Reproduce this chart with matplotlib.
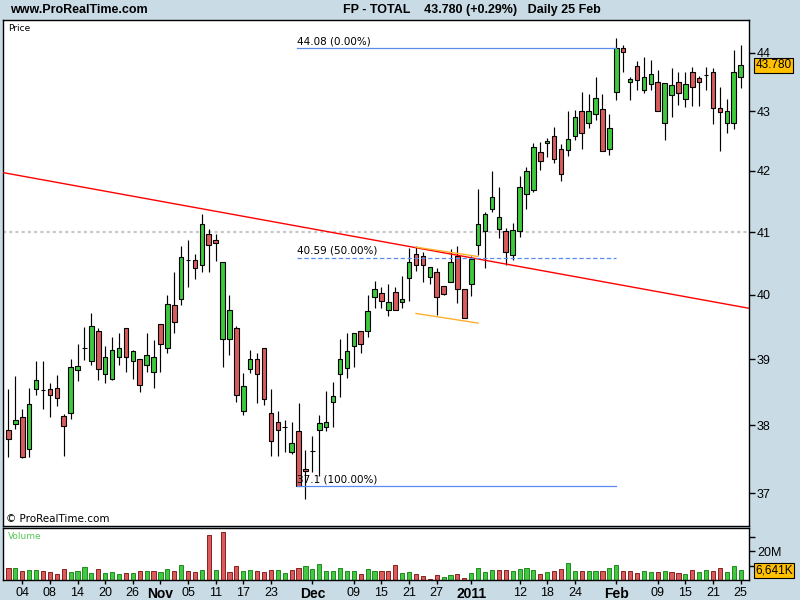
import numpy as np
import pandas as pd
import matplotlib

matplotlib.use("Agg")
import matplotlib.pyplot as plt
from matplotlib import font_manager
from matplotlib.ticker import FixedLocator, NullLocator
from matplotlib.transforms import blended_transform_factory

# ---- data (FP - TOTAL, daily) ----
start, end = "2010-09-30", "2011-02-25"

opens = [37.93, 38.02, 38.12, 37.65, 38.55, 38.53, 38.54, 38.56, 38.14, 38.19,
         38.84, 39.18, 38.97, 39.44, 38.78, 38.70, 39.03, 39.48, 38.97, 39.00,
         38.92, 38.81, 39.54, 39.17, 39.84, 39.93, 40.56, 40.55, 40.48, 40.97,
         40.88, 39.32, 39.32, 39.48, 38.22, 38.85, 39.01, 39.18, 38.18, 38.05,
         37.97, 37.60, 37.91, 37.36, 37.62, 37.93, 37.98, 38.35, 38.78, 38.86,
         39.20, 39.43, 39.44, 39.97, 40.03, 39.77, 40.05, 39.89, 40.27, 40.65,
         40.62, 40.29, 40.37, 40.14, 40.20, 40.62, 40.10, 40.17, 40.80, 41.02,
         41.38, 41.05, 41.02, 40.63, 41.02, 41.62, 41.68, 42.31, 42.46, 42.58,
         42.36, 42.35, 42.58, 43.00, 42.80, 42.95, 43.03, 42.36, 43.33, 44.09,
         43.49, 43.77, 43.36, 43.46, 43.49, 42.80, 43.27, 43.49, 43.20, 43.66,
         43.56, 43.61, 43.66, 43.05, 42.80, 42.80, 43.58]
highs = [38.54, 38.75, 38.24, 38.56, 38.98, 38.97, 38.64, 38.76, 38.17, 39.00,
         39.23, 39.50, 39.71, 39.49, 39.20, 39.34, 39.40, 39.49, 39.14, 39.00,
         39.40, 39.29, 39.54, 40.00, 40.37, 40.78, 40.88, 40.65, 41.29, 41.05,
         40.97, 40.52, 40.00, 39.52, 38.79, 39.14, 39.09, 39.18, 38.54, 38.21,
         38.08, 38.05, 38.33, 37.63, 37.84, 38.15, 38.51, 38.66, 39.32, 39.40,
         39.41, 39.43, 40.00, 40.22, 40.13, 40.18, 40.13, 40.30, 40.75, 40.78,
         40.68, 40.45, 40.42, 40.14, 40.73, 40.78, 40.10, 40.62, 41.71, 41.32,
         42.00, 41.74, 41.07, 41.15, 41.91, 42.06, 42.46, 42.48, 42.55, 42.73,
         42.45, 43.00, 43.02, 43.33, 43.29, 43.58, 43.29, 42.96, 44.25, 44.13,
         43.58, 43.85, 43.92, 43.87, 43.70, 43.48, 43.73, 43.66, 43.66, 43.75,
         43.60, 43.75, 43.73, 43.41, 43.20, 44.04, 44.13]
lows = [37.53, 37.94, 37.51, 37.53, 38.45, 38.24, 38.12, 38.29, 37.54, 38.09,
        38.67, 38.99, 38.92, 38.69, 38.64, 38.68, 38.92, 38.81, 38.70, 38.50,
        38.80, 38.56, 38.81, 39.09, 39.41, 39.85, 40.12, 40.26, 40.37, 40.37,
        40.54, 38.89, 39.06, 38.35, 38.15, 38.79, 38.33, 38.30, 37.54, 37.54,
        37.60, 37.58, 37.10, 36.92, 37.31, 37.25, 37.91, 37.98, 38.43, 38.71,
        38.89, 39.09, 39.34, 39.79, 39.79, 39.67, 39.77, 39.79, 39.91, 40.38,
        40.21, 40.18, 39.68, 40.00, 40.20, 39.88, 39.64, 39.99, 40.63, 40.42,
        41.32, 40.90, 40.47, 40.55, 40.92, 41.38, 41.66, 42.01, 42.23, 42.13,
        41.83, 42.25, 42.51, 42.37, 42.72, 42.85, 42.33, 42.26, 43.19, 43.66,
        43.19, 43.36, 43.31, 43.36, 43.00, 42.51, 42.90, 43.10, 43.07, 43.09,
        43.09, 43.36, 42.78, 42.33, 42.63, 42.70, 43.39]
closes = [37.80, 38.08, 37.53, 38.32, 38.68, 38.53, 38.45, 38.41, 37.99, 38.89,
          38.90, 39.18, 39.52, 38.85, 39.03, 39.14, 39.17, 39.04, 39.13, 38.61,
          39.06, 39.04, 39.24, 39.86, 39.57, 40.60, 40.56, 40.43, 41.13, 40.80,
          40.83, 40.52, 39.77, 38.45, 38.59, 39.01, 38.78, 38.39, 37.76, 37.93,
          37.97, 37.74, 37.10, 37.33, 37.62, 38.03, 38.05, 38.44, 39.00, 39.13,
          39.41, 39.24, 39.75, 40.09, 39.91, 39.89, 39.77, 39.94, 40.53, 40.48,
          40.47, 40.45, 39.97, 40.02, 40.52, 40.10, 39.64, 40.57, 41.13, 41.30,
          41.57, 41.24, 40.68, 41.04, 41.74, 42.00, 42.40, 42.16, 42.50, 42.20,
          41.95, 42.53, 42.90, 42.63, 43.00, 43.22, 42.33, 42.72, 44.08, 44.01,
          43.54, 43.53, 43.58, 43.63, 43.00, 43.48, 43.44, 43.31, 43.46, 43.41,
          43.49, 43.61, 43.05, 42.98, 43.00, 43.66, 43.78]
# volume in millions of shares
volumes = [8.0, 8.5, 6.0, 6.7, 6.7, 6.0, 5.3, 3.9, 7.4, 5.3,
           6.0, 8.7, 4.6, 7.4, 4.6, 5.3, 3.9, 4.6, 4.6, 6.0,
           6.0, 6.0, 5.3, 7.4, 6.0, 10.1, 6.0, 5.3, 6.7, 30.8,
           6.7, 33.3, 5.3, 9.4, 6.0, 6.7, 6.0, 5.3, 6.7, 6.7,
           4.6, 6.7, 8.0, 9.4, 7.4, 10.8, 6.0, 6.0, 8.0, 6.0,
           6.0, 3.9, 7.4, 6.0, 6.0, 6.0, 10.1, 4.6, 5.3, 3.9,
           2.5, 0.5, 3.2, 1.8, 3.2, 3.9, 1.1, 4.6, 8.0, 5.3,
           6.7, 6.7, 6.7, 6.0, 7.4, 8.0, 6.7, 3.9, 5.3, 6.0,
           7.4, 11.5, 6.0, 6.0, 6.0, 6.0, 6.0, 8.0, 10.1, 6.0,
           6.0, 4.6, 6.0, 5.3, 5.3, 6.0, 5.3, 4.6, 3.9, 6.7,
           5.3, 6.7, 6.0, 8.0, 5.3, 9.4, 6.641]

tick_dates = ["2010-10-04", "2010-10-08", "2010-10-14", "2010-10-20", "2010-10-26",
              "2010-11-01", "2010-11-05", "2010-11-11", "2010-11-17", "2010-11-23",
              "2010-12-01", "2010-12-09", "2010-12-15", "2010-12-21", "2010-12-27",
              "2011-01-03", "2011-01-12", "2011-01-18", "2011-01-24", "2011-02-01",
              "2011-02-09", "2011-02-15", "2011-02-21", "2011-02-25"]
tick_labels = ["04", "08", "14", "20", "26", "Nov", "05", "11", "17", "23",
               "Dec", "09", "15", "21", "27", "2011", "12", "18", "24", "Feb",
               "09", "15", "21", "25"]
month_labels = {"Nov", "Dec", "2011", "Feb"}

price_ticks = [37, 38, 39, 40, 41, 42, 43, 44]
last_price, last_change = 43.780, 0.29

# drawn objects
trend_red = [("2010-11-09", 41.38), ("2011-01-04", 40.57)]
channel_up = [("2010-12-22", 40.76), ("2011-01-04", 40.61)]
channel_dn = [("2010-12-22", 39.71), ("2011-01-04", 39.56)]
fib_start, fib_end = "2010-11-29", "2011-02-01"
fib_low, fib_high = 37.1, 44.08
hline_level = 41.0

# ---- plotting ----
BG = "#C9DCE6"
GREEN = "#3DC83D"
RED = "#D95B5B"

plt.rcParams["font.family"] = ["Liberation Sans", "DejaVu Sans"]


def has_font(name):
    try:
        font_manager.findfont(name, fallback_to_default=False)
        return True
    except ValueError:
        return False


dates = pd.bdate_range(start, end)
x = np.arange(len(dates))
o, h, l, c = map(np.array, (opens, highs, lows, closes))
vol = np.array(volumes)


def pos(d):
    return dates.get_loc(pd.Timestamp(d))


fig = plt.figure(figsize=(8, 6), dpi=100, facecolor=BG)
W, H = 800, 600
ax = fig.add_axes([3.3 / W, 1 - 525.7 / H, 746 / W, 505.7 / H])
axv = fig.add_axes([3.3 / W, 1 - 580 / H, 746 / W, 51.7 / H], sharex=ax)

xlim = (-0.75, 107.26)

# wicks + bodies
ax.vlines(x, l, h, color="black", lw=0.85, zorder=3)
up = c >= o
body_lo = np.minimum(o, c)
body_hi = np.maximum(o, c)
ax.bar(x, body_hi - body_lo, bottom=body_lo, width=0.66,
       color=np.where(up, GREEN, RED), edgecolor="black", lw=0.8, zorder=4)

ax.set_yscale("log")
ax.set_ylim(36.529, 44.57)
ax.set_xlim(*xlim)

# red trend line extended over the panel
(d1, p1), (d2, p2) = trend_red
x1, x2 = pos(d1), pos(d2)
slope = (np.log(p2) - np.log(p1)) / (x2 - x1)
xe = np.array(xlim)
ax.plot(xe, np.exp(np.log(p1) + slope * (xe - x1)), color="red", lw=1.0, zorder=5)

for seg in (channel_up, channel_dn):
    ax.plot([pos(seg[0][0]), pos(seg[1][0])], [seg[0][1], seg[1][1]],
            color="#FFB030", lw=1.0, zorder=5)

ax.axhline(hline_level, color="#C8C8C8", lw=1.6, dashes=(1.4, 1.4), zorder=1)

# fibonacci
fs, fe = pos(fib_start) - 0.2, pos(fib_end)
fib_mid = (fib_low + fib_high) / 2
fib_blue = "#5A8CF0"
for lev, pct, ls in ((fib_high, 0.0, "-"), (fib_mid, 50.0, "--"), (fib_low, 100.0, "-")):
    line, = ax.plot([fs, fe], [lev, lev], color=fib_blue, lw=0.9, ls=ls, zorder=6)
    if ls == "--":
        line.set_dashes((3.5, 2))
    ax.annotate(f"{round(lev, 2):g} ({pct:.2f}%)", (fs, lev), xytext=(0, 1.5),
                textcoords="offset points", fontsize=7.5, va="bottom", ha="left",
                family=["DejaVu Sans"], zorder=7)

# price axis on the right
ax.yaxis.tick_right()
ax.yaxis.set_major_locator(FixedLocator(price_ticks))
ax.yaxis.set_minor_locator(NullLocator())
ax.set_yticklabels([str(t) for t in price_ticks])
ax.tick_params(axis="y", which="major", direction="out", length=4, width=1,
               pad=1.5, labelsize=9)
ax.tick_params(axis="x", bottom=False, labelbottom=False)
for s in ax.spines.values():
    s.set_linewidth(1.0)

tr = blended_transform_factory(ax.transAxes, ax.transData)
ax.text(1.008, last_price, f"{last_price:.3f}", transform=tr, fontsize=8.5,
        va="center", ha="left", zorder=10,
        bbox=dict(boxstyle="square,pad=0.12", fc="#FFC000", ec="black", lw=0.8))

ax.text(0.006, 0.993, "Price", transform=ax.transAxes, fontsize=6.5,
        va="top", ha="left", family=["DejaVu Sans"])
ax.text(0.003, 0.004, "\u00a9 ProRealTime.com", transform=ax.transAxes,
        fontsize=7.5, va="bottom", ha="left", family=["DejaVu Sans"])

# volume
vup = np.r_[False, c[1:] >= c[:-1]]
axv.bar(x, vol, width=0.6, color=np.where(vup, "#44C844", RED),
        edgecolor=np.where(vup, "#1F8A1F", "#8B2020"), lw=0.7)
axv.set_ylim(0, 35.7)
axv.yaxis.tick_right()
axv.yaxis.set_major_locator(FixedLocator([10, 20, 30]))
axv.set_yticklabels(["", "20M", ""])
axv.tick_params(axis="y", direction="out", length=4, width=1, pad=1.5, labelsize=9)
for s in axv.spines.values():
    s.set_linewidth(1.0)
axv.text(0.006, 0.93, "Volume", transform=axv.transAxes, fontsize=6.5,
         color="#55C855", va="top", ha="left", family=["DejaVu Sans"])
trv = blended_transform_factory(axv.transAxes, axv.transData)
axv.text(1.008, vol[-1], f"{vol[-1] * 1000:,.0f}K", transform=trv, fontsize=8.5,
         va="center", ha="left", zorder=10,
         bbox=dict(boxstyle="square,pad=0.12", fc="#FFC000", ec="black", lw=0.8))

axv.set_xticks([pos(d) for d in tick_dates])
axv.set_xticklabels(tick_labels)
axv.tick_params(axis="x", direction="out", length=3, width=1, pad=2, labelsize=9)
for lab in axv.get_xticklabels():
    if lab.get_text() in month_labels:
        lab.set_fontweight("bold")
        lab.set_fontsize(10)
axv.set_xlim(*xlim)

# header
if has_font("Liberation Sans Narrow"):
    head = dict(family=["Liberation Sans Narrow", "DejaVu Sans"], fontsize=10.5)
else:
    head = dict(family=["Liberation Sans", "DejaVu Sans"], fontsize=9, fontstretch="condensed")
fig.text(10 / W, 1 - 10 / H, "www.ProRealTime.com", fontweight="bold",
         va="center", ha="left", **head)
fig.text(343 / W, 1 - 10 / H,
         f"FP - TOTAL    {last_price:.3f} (+{last_change:.2f}%)   Daily {dates[-1]:%d %b}",
         fontweight="bold", va="center", ha="left", **head)

fig.savefig("out.png", dpi=100, facecolor=BG)
